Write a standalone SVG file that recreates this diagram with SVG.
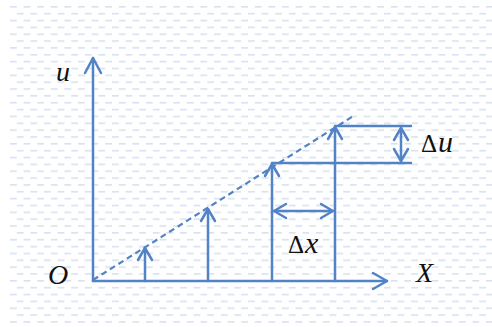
<svg xmlns="http://www.w3.org/2000/svg" width="492" height="327" viewBox="0 0 492 327">
<defs>
<pattern id="bg" patternUnits="userSpaceOnUse" x="10" y="6" width="13.6" height="13.7">
<rect x="0" y="0" width="6.8" height="1.6" fill="#d6e1f2"/>
<rect x="6.8" y="6.85" width="6.8" height="1.6" fill="#d6e1f2"/>
</pattern>
<style>
.ln{stroke:#5283c6;stroke-width:2.5;fill:none;stroke-linecap:round;stroke-linejoin:round}
.ds{stroke:#5283c6;stroke-width:2.2;fill:none;stroke-dasharray:6 4}
.t{font-family:"Liberation Serif","DejaVu Serif",serif;font-style:italic;fill:#111}
.tn{font-family:"Liberation Serif","DejaVu Serif",serif;fill:#111}
</style>
</defs>
<rect x="0" y="0" width="492" height="327" fill="#ffffff"/>
<rect x="10" y="5" width="482" height="322" fill="url(#bg)"/>
<g id="connectors">
<path class="ds" d="M93,280 L355,115"/>
<g id="y-axis"><path class="ln" d="M93,281 V58"/><path class="ln" d="M85,73 L93,58 L101,73"/></g>
<g id="x-axis"><path class="ln" d="M93,281 H387"/><path class="ln" d="M373,273 L387,281 L373,289"/></g>
<g id="arrow1"><path class="ln" d="M145,281 V248"/><path class="ln" d="M138,260 L145,248 L152,260"/></g>
<g id="arrow2"><path class="ln" d="M208,281 V209"/><path class="ln" d="M201,221 L208,209 L215,221"/></g>
<g id="arrow3"><path class="ln" d="M272,281 V164"/><path class="ln" d="M265,176 L272,164 L279,176"/></g>
<g id="arrow4"><path class="ln" d="M335,281 V127"/><path class="ln" d="M328,139 L335,127 L342,139"/></g>
<path class="ln" d="M335,126 H411 M272,163 H411"/>
<g id="du-arrow"><path class="ln" d="M401,128 V161"/><path class="ln" d="M394,140 L401,128 L408,140 M394,149 L401,161 L408,149"/></g>
<g id="dx-arrow"><path class="ln" d="M274,211 H333"/><path class="ln" d="M286,204 L274,211 L286,218 M321,204 L333,211 L321,218"/></g>
</g>
<g id="labels">
<text class="t" x="56" y="81" font-size="28">u</text>
<text class="t" x="48" y="284" font-size="28">O</text>
<text class="t" x="416" y="282" font-size="28">X</text>
<text x="421" y="152" font-size="25"><tspan class="tn">Δ</tspan><tspan class="t" font-size="30" dx="1">u</tspan></text>
<text x="288" y="253" font-size="25"><tspan class="tn">Δ</tspan><tspan class="t" font-size="30" dx="1">x</tspan></text>
</g>
</svg>
